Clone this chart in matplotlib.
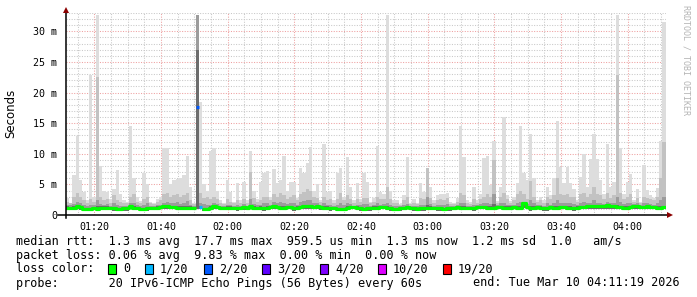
import numpy as np
import pandas as pd
import matplotlib
matplotlib.use('Agg')
import matplotlib.pyplot as plt
from matplotlib.patches import Rectangle

# data : one column per minute, values in ms
start = pd.Timestamp('2026-03-10 01:11:19')
n_cols = 180

rtt_max = [
    2.8, 2.0, 6.5, 12.9, 5.7, 3.8, 2.4, 22.8, 3.0, 32.6, 8.0, 4.0, 3.8, 2.6, 4.2, 7.3, 3.5, 2.5, 2.2, 14.5,
    6.0, 3.0, 2.3, 6.8, 5.0, 2.2, 2.0, 2.6, 3.0, 11.0, 11.0, 5.0, 5.7, 5.8, 6.0, 6.6, 9.6, 4.5, 2.0, 32.6,
    18.4, 5.0, 4.0, 10.5, 10.9, 4.0, 2.5, 2.0, 5.7, 3.8, 2.2, 5.2, 2.4, 5.4, 2.5, 10.5, 4.0, 2.6, 5.4, 6.9,
    7.2, 2.9, 7.5, 5.2, 5.7, 9.6, 3.9, 5.4, 5.4, 2.8, 7.6, 6.8, 8.5, 11.1, 4.0, 5.0, 2.5, 11.6, 3.8, 4.0,
    2.5, 6.9, 7.6, 3.0, 9.4, 4.6, 2.4, 5.3, 2.6, 6.9, 5.4, 2.2, 2.8, 11.2, 3.8, 3.5, 32.6, 3.9, 2.5, 2.5,
    1.8, 3.2, 9.5, 2.0, 2.6, 2.0, 5.2, 3.8, 7.6, 4.6, 2.5, 3.2, 3.4, 3.4, 3.6, 2.2, 2.0, 2.7, 14.5, 9.5,
    2.4, 2.2, 4.5, 2.4, 3.4, 9.3, 9.7, 4.9, 12.1, 2.3, 4.6, 16.0, 3.2, 2.3, 2.9, 5.3, 14.5, 6.9, 5.7, 13.2,
    6.0, 2.5, 2.9, 2.4, 4.5, 3.2, 6.0, 15.3, 7.8, 5.2, 7.8, 5.2, 4.3, 2.5, 6.2, 9.9, 4.5, 9.1, 13.2, 9.1,
    5.7, 3.4, 11.6, 4.5, 5.4, 32.6, 10.9, 3.4, 5.4, 6.7, 2.5, 4.2, 2.2, 8.1, 4.1, 3.3, 2.7, 4.4, 12.1, 31.6,
]
rtt_p90 = [
    2.2, 2.0, 3.0, 3.6, 3.0, 2.4, 2.0, 2.6, 2.2, 22.6, 3.0, 2.4, 2.6, 2.0, 3.2, 2.4, 2.2, 2.0, 1.9, 3.0,
    3.4, 2.2, 1.9, 2.6, 3.0, 1.9, 1.8, 2.2, 2.4, 3.4, 3.6, 3.0, 3.2, 3.4, 3.0, 3.2, 3.6, 2.4, 1.8, 32.6,
    3.6, 2.8, 3.0, 2.6, 3.0, 2.6, 2.0, 1.8, 2.6, 2.2, 1.9, 2.4, 2.0, 2.6, 2.0, 7.0, 2.8, 2.2, 2.4, 3.0,
    3.0, 2.4, 3.4, 3.0, 3.6, 3.2, 2.6, 3.0, 3.2, 2.4, 3.4, 3.8, 4.2, 4.0, 3.0, 2.8, 2.2, 3.0, 2.4, 2.6,
    2.0, 2.6, 3.6, 2.4, 3.2, 2.6, 2.0, 2.6, 2.2, 2.8, 2.8, 1.9, 2.2, 3.0, 2.6, 2.6, 4.5, 2.6, 2.0, 2.0,
    1.6, 2.4, 3.0, 1.8, 2.0, 1.8, 2.8, 2.6, 7.6, 2.8, 2.0, 2.4, 2.6, 2.4, 2.8, 1.8, 1.8, 2.2, 3.6, 3.2,
    2.0, 1.8, 2.6, 2.0, 2.6, 3.0, 3.4, 3.0, 9.0, 2.0, 3.0, 3.6, 2.6, 2.0, 2.4, 3.4, 4.0, 3.4, 2.6, 5.6,
    3.0, 2.2, 2.4, 2.0, 3.0, 2.6, 3.2, 6.0, 3.4, 3.2, 3.4, 3.0, 3.0, 2.2, 3.4, 3.6, 3.0, 3.4, 4.6, 3.4,
    3.2, 2.6, 3.6, 2.8, 3.2, 22.8, 3.6, 2.6, 3.0, 3.4, 2.2, 2.8, 2.0, 3.0, 2.8, 2.6, 2.4, 3.0, 6.0, 12.0,
]
rtt_p75 = [
    1.6, 1.6, 1.8, 2.2, 2.0, 1.6, 1.5, 1.7, 1.6, 2.4, 1.8, 1.7, 1.8, 1.5, 2.0, 1.6, 1.5, 1.5, 1.5, 1.9,
    2.0, 1.6, 1.4, 1.7, 2.0, 1.5, 1.5, 1.6, 1.7, 2.0, 2.2, 1.9, 2.0, 2.2, 1.8, 2.0, 2.3, 1.7, 1.5, 32.6,
    2.0, 1.8, 1.6, 1.7, 2.0, 1.8, 1.5, 1.5, 1.7, 1.6, 1.5, 1.7, 1.5, 1.8, 1.5, 2.6, 1.8, 1.6, 1.7, 1.9,
    1.9, 1.7, 2.2, 1.9, 2.2, 2.0, 1.8, 2.0, 2.0, 1.7, 2.1, 2.3, 2.5, 2.4, 2.0, 1.9, 1.6, 1.9, 1.7, 1.7,
    1.5, 1.6, 2.0, 1.6, 2.0, 1.8, 1.5, 1.7, 1.6, 1.8, 1.8, 1.5, 1.6, 1.9, 1.7, 1.8, 2.0, 1.7, 1.5, 1.5,
    1.4, 1.6, 1.8, 1.5, 1.5, 1.4, 1.7, 1.7, 3.0, 1.8, 1.5, 1.6, 1.7, 1.6, 1.8, 1.5, 1.5, 1.6, 2.0, 1.9,
    1.5, 1.5, 1.7, 1.6, 1.8, 1.9, 2.0, 1.8, 3.5, 1.6, 1.9, 2.0, 1.7, 1.6, 1.7, 2.0, 2.2, 2.2, 1.8, 2.4,
    1.9, 1.6, 1.7, 1.5, 1.9, 1.7, 2.0, 2.4, 2.0, 2.0, 2.0, 1.9, 1.8, 1.6, 2.0, 2.2, 1.9, 2.0, 2.4, 2.0,
    2.0, 1.8, 2.2, 1.9, 2.0, 3.0, 2.2, 1.8, 1.9, 2.0, 1.8, 1.9, 1.7, 1.9, 1.9, 1.8, 1.7, 1.9, 2.4, 3.0,
]
rtt_p60 = [
    1.4, 1.3, 1.4, 1.7, 1.5, 1.2, 1.2, 1.2, 1.3, 1.4, 1.4, 1.4, 1.4, 1.3, 1.3, 1.2, 1.2, 1.3, 1.3, 1.6,
    1.4, 1.3, 1.2, 1.2, 1.3, 1.3, 1.3, 1.4, 1.5, 1.6, 1.6, 1.5, 1.5, 1.4, 1.4, 1.4, 1.5, 1.4, 1.3, 27.0,
    1.5, 1.2, 1.1, 1.4, 1.6, 1.5, 1.3, 1.3, 1.4, 1.4, 1.3, 1.3, 1.3, 1.5, 1.3, 1.7, 1.4, 1.3, 1.4, 1.3,
    1.4, 1.5, 1.7, 1.5, 1.4, 1.4, 1.5, 1.5, 1.3, 1.4, 1.5, 1.6, 1.7, 1.7, 1.5, 1.6, 1.4, 1.4, 1.4, 1.3,
    1.3, 1.2, 1.1, 1.1, 1.4, 1.5, 1.4, 1.4, 1.3, 1.2, 1.3, 1.3, 1.4, 1.4, 1.5, 1.5, 1.4, 1.3, 1.2, 1.2,
    1.2, 1.3, 1.5, 1.3, 1.3, 1.2, 1.3, 1.3, 1.6, 1.4, 1.3, 1.3, 1.3, 1.2, 1.3, 1.3, 1.3, 1.5, 1.4, 1.4,
    1.3, 1.3, 1.3, 1.5, 1.5, 1.5, 1.4, 1.4, 1.8, 1.5, 1.5, 1.4, 1.4, 1.4, 1.5, 1.4, 1.4, 2.1, 1.5, 1.4,
    1.4, 1.5, 1.4, 1.3, 1.3, 1.5, 1.4, 1.5, 1.5, 1.5, 1.4, 1.4, 1.3, 1.4, 1.5, 1.5, 1.6, 1.7, 1.6, 1.6,
    1.7, 1.6, 1.8, 1.7, 1.6, 1.6, 1.5, 1.4, 1.4, 1.5, 1.6, 1.6, 1.5, 1.5, 1.6, 1.5, 1.5, 1.4, 1.4, 1.5,
]
rtt_min = [
    0.8, 0.8, 0.8, 0.9, 0.8, 0.7, 0.7, 0.7, 0.8, 0.7, 0.8, 0.8, 0.8, 0.8, 0.7, 0.7, 0.6, 0.7, 0.7, 0.9,
    0.8, 0.8, 0.7, 0.7, 0.7, 0.8, 0.8, 0.8, 0.9, 0.9, 0.9, 0.9, 0.9, 0.8, 0.8, 0.8, 0.8, 0.8, 0.8, 0.9,
    0.9, 0.7, 0.6, 0.8, 0.9, 0.9, 0.8, 0.8, 0.8, 0.8, 0.8, 0.7, 0.8, 0.8, 0.8, 0.9, 0.8, 0.8, 0.8, 0.7,
    0.8, 0.9, 0.9, 0.9, 0.8, 0.8, 0.9, 0.9, 0.7, 0.8, 0.9, 0.9, 0.9, 0.9, 0.9, 0.9, 0.8, 0.8, 0.8, 0.7,
    0.8, 0.7, 0.6, 0.6, 0.8, 0.9, 0.9, 0.8, 0.7, 0.7, 0.7, 0.7, 0.8, 0.8, 0.9, 0.9, 0.8, 0.7, 0.7, 0.7,
    0.7, 0.8, 0.9, 0.8, 0.7, 0.7, 0.7, 0.7, 0.8, 0.8, 0.8, 0.7, 0.7, 0.7, 0.7, 0.7, 0.8, 0.9, 0.8, 0.8,
    0.8, 0.8, 0.7, 0.9, 0.9, 0.9, 0.8, 0.8, 0.8, 0.9, 0.9, 0.8, 0.8, 0.8, 0.9, 0.8, 0.8, 1.2, 0.9, 0.7,
    0.8, 0.9, 0.8, 0.7, 0.7, 0.9, 0.8, 0.8, 0.9, 0.9, 0.8, 0.8, 0.7, 0.8, 0.9, 0.9, 0.9, 1.0, 0.9, 0.9,
    1.0, 0.9, 1.0, 1.0, 0.9, 0.9, 0.9, 0.8, 0.8, 0.9, 0.9, 0.9, 0.9, 0.9, 0.9, 0.9, 0.9, 0.8, 0.8, 0.9,
]
rtt_median = [
    1.2, 1.2, 1.2, 1.5, 1.3, 1.0, 1.0, 1.0, 1.1, 1.0, 1.2, 1.2, 1.2, 1.2, 1.1, 1.0, 1.0, 1.1, 1.1, 1.4,
    1.2, 1.1, 1.0, 1.0, 1.1, 1.2, 1.2, 1.2, 1.3, 1.4, 1.4, 1.3, 1.3, 1.2, 1.2, 1.2, 1.2, 1.2, 1.2, 17.7,
    1.3, 1.0, 0.9, 1.2, 1.4, 1.3, 1.2, 1.2, 1.2, 1.2, 1.2, 1.1, 1.2, 1.3, 1.2, 1.4, 1.2, 1.2, 1.2, 1.1,
    1.2, 1.3, 1.5, 1.3, 1.2, 1.2, 1.3, 1.3, 1.1, 1.2, 1.3, 1.4, 1.4, 1.5, 1.3, 1.4, 1.3, 1.2, 1.2, 1.1,
    1.2, 1.0, 0.9, 0.9, 1.2, 1.3, 1.3, 1.2, 1.1, 1.0, 1.1, 1.1, 1.2, 1.2, 1.3, 1.3, 1.2, 1.1, 1.0, 1.0,
    1.1, 1.2, 1.3, 1.2, 1.1, 1.0, 1.1, 1.1, 1.2, 1.2, 1.2, 1.1, 1.1, 1.0, 1.1, 1.1, 1.2, 1.3, 1.2, 1.2,
    1.2, 1.2, 1.1, 1.3, 1.3, 1.3, 1.2, 1.2, 1.2, 1.3, 1.3, 1.2, 1.2, 1.2, 1.3, 1.2, 1.2, 1.9, 1.3, 1.1,
    1.2, 1.3, 1.2, 1.1, 1.1, 1.3, 1.2, 1.2, 1.3, 1.3, 1.2, 1.2, 1.1, 1.2, 1.3, 1.3, 1.4, 1.5, 1.4, 1.4,
    1.5, 1.4, 1.6, 1.5, 1.4, 1.3, 1.3, 1.2, 1.2, 1.3, 1.4, 1.4, 1.3, 1.3, 1.4, 1.3, 1.3, 1.2, 1.2, 1.3,
]
# columns with packet loss (index into loss_colors)
loss_idx = [39, 40]
loss_level = [2, 1]

loss_colors = ['#00ff00', '#00b8ff', '#0059ff', '#5e00ff', '#7e00ff', '#dd00ff', '#ff0000']
loss_labels = ['0', '1/20', '2/20', '3/20', '4/20', '10/20', '19/20']

xtick_labels = ['01:20', '01:40', '02:00', '02:20', '02:40', '03:00', '03:20', '03:40', '04:00']
ytick_vals = [0, 5, 10, 15, 20, 25, 30]
ytick_labels = ['0', '5 m', '10 m', '15 m', '20 m', '25 m', '30 m']

legend_lines = [
    'median rtt:  1.3 ms avg  17.7 ms max  959.5 us min  1.3 ms now  1.2 ms sd  1.0   am/s',
    'packet loss: 0.06 % avg  9.83 % max  0.00 % min  0.00 % now',
    'loss color:',
    'probe:       20 IPv6-ICMP Echo Pings (56 Bytes) every 60s',
]
end_text = 'end: Tue Mar 10 04:11:19 2026'

plt.rcParams['lines.scale_dashes'] = False
mono = 'DejaVu Sans Mono'

W, H = 697, 297
fig = plt.figure(figsize=(W / 100, H / 100), dpi=100)
fig.patch.set_facecolor('white')
ax = fig.add_axes([65.5 / W, (H - 215) / H, 600 / W, 202 / H])
ax.set_facecolor('white')

x = np.arange(n_cols)
lo = np.array(rtt_min)
# smoke layers, lightest first
for top, col in [(rtt_max, '#dddddd'), (rtt_p90, '#c2c2c2'), (rtt_p75, '#9c9c9c'), (rtt_p60, '#6c6c6c')]:
    top = np.array(top)
    ax.bar(x, top - lo, bottom=lo, width=1.0, align='edge', color=col,
           linewidth=0, antialiased=False, zorder=2)

# median line, green where no loss
med = np.array(rtt_median, dtype=float)
lvl = np.zeros(n_cols, dtype=int)
lvl[loss_idx] = loss_level
green = np.where(lvl == 0, med, np.nan)
ax.step(np.arange(n_cols + 1), np.append(green, green[-1]), where='post',
        color=loss_colors[0], lw=2.3, zorder=3, solid_capstyle='butt')
for i in loss_idx:
    ax.hlines(med[i], i, i + 1, color=loss_colors[lvl[i]], lw=2.3, zorder=3)

ax.set_xlim(0, n_cols)
ax.set_ylim(0, 33)

# time ticks
def minutes(hhmm):
    t = pd.Timestamp('2026-03-10 ' + hhmm)
    return (t - start).total_seconds() / 60

major_x = [minutes(s) for s in xtick_labels]
minor_x = np.arange(major_x[0] - 5, n_cols, 5)
ax.set_xticks(major_x)
ax.set_xticklabels(xtick_labels, fontfamily=mono, fontsize=7.2)
ax.set_xticks(minor_x, minor=True)
ax.set_yticks(ytick_vals)
ax.set_yticklabels(ytick_labels, fontfamily=mono, fontsize=7.2)
ax.set_yticks(np.arange(0, 34, 1), minor=True)
ax.tick_params(which='both', length=0)
ax.tick_params(axis='x', pad=5)
ax.tick_params(axis='y', pad=6)

ax.grid(which='minor', color='#c8c8c8', linestyle=(0, (0.75, 1.1)), lw=0.75, zorder=0)
ax.grid(which='major', color='#eea0a0', linestyle=(0, (0.75, 1.1)), lw=0.75, zorder=0)
ax.set_axisbelow(True)

for s in ax.spines.values():
    s.set_visible(False)

# axes with arrows
ax.plot([-0.012, 1.005], [0, 0], transform=ax.transAxes, color='black', lw=1.1,
        clip_on=False, zorder=4)
ax.plot([0, 0], [-0.015, 1.01], transform=ax.transAxes, color='black', lw=1.1,
        clip_on=False, zorder=4)
ax.plot([1.008], [0], transform=ax.transAxes, marker='>', ms=4, color='#8b0000',
        clip_on=False, zorder=5, markeredgewidth=0)
ax.plot([0], [1.015], transform=ax.transAxes, marker='^', ms=4, color='#8b0000',
        clip_on=False, zorder=5, markeredgewidth=0)

fig.text(11 / W, 1 - 113 / H, 'Seconds', rotation=90, ha='center', va='center',
         fontsize=8.5, family='DejaVu Sans')
fig.text(686 / W, 1 - 5 / H, 'RRDTOOL / TOBI OETIKER', rotation=270, ha='center', va='top',
         fontsize=6, family=mono, color='#b4b4b4')

# legend block
line_y = [241, 255, 269, 283]
for txt, yy in zip(legend_lines, line_y):
    fig.text(16 / W, 1 - yy / H, txt, ha='left', va='center', fontsize=8.5, family=mono)
fig.text(680 / W, 1 - 283 / H, end_text, ha='right', va='center', fontsize=8.5, family=mono)

box_x = [108, 145, 204, 262, 320, 378, 443]
for bx, col, lab in zip(box_x, loss_colors, loss_labels):
    fig.patches.append(Rectangle((bx / W, 1 - 274 / H), 8 / W, 10 / H, transform=fig.transFigure,
                                 facecolor=col, edgecolor='black', lw=0.8))
    fig.text((bx + 15) / W, 1 - 269 / H, lab, ha='left', va='center', fontsize=8.5, family=mono)

fig.savefig('out.png', dpi=100)
